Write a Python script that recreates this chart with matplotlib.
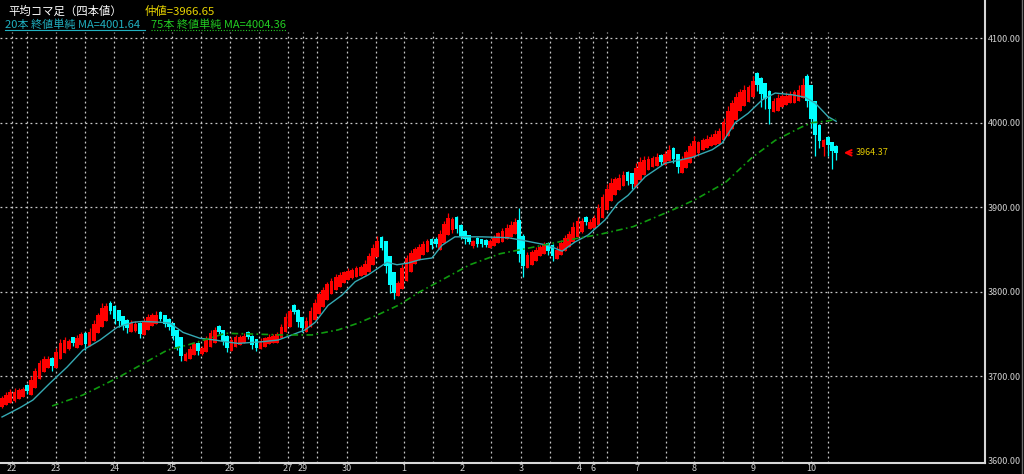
import matplotlib.pyplot as plt
from matplotlib.lines import Line2D

plt.rcParams['font.family'] = ['Noto Sans CJK JP', 'DejaVu Sans']

# Heikin-Ashi close per bar
closes = [
    3674, 3678, 3682, 3681, 3684, 3685, 3683, 3696, 3706, 3716,
    3720, 3721, 3712, 3729, 3740, 3743, 3742, 3739, 3745, 3750,
    3738, 3753, 3762, 3772, 3781, 3783, 3777, 3768, 3765, 3760,
    3757, 3763, 3762, 3750, 3764, 3770, 3772, 3773, 3768, 3762,
    3758, 3748, 3735, 3724, 3726, 3732, 3738, 3730, 3734, 3744,
    3751, 3755, 3752, 3742, 3733, 3743, 3746, 3747, 3748, 3746,
    3737, 3734, 3742, 3745, 3747, 3748, 3750, 3758, 3770, 3777,
    3776, 3764, 3757, 3766, 3777, 3787, 3797, 3802, 3809, 3813,
    3817, 3820, 3823, 3825, 3826, 3828, 3829, 3833, 3842, 3852,
    3860, 3852, 3830, 3808, 3798, 3810, 3828, 3840, 3846, 3851,
    3853, 3856, 3860, 3855, 3856, 3868, 3880, 3887, 3886, 3874,
    3866, 3862, 3859, 3860, 3857, 3856, 3855, 3860, 3864, 3869,
    3872, 3876, 3879, 3883, 3845, 3830, 3843, 3847, 3850, 3853,
    3856, 3848, 3842, 3850, 3858, 3864, 3868, 3877, 3884, 3884,
    3882, 3883, 3887, 3899, 3912, 3922, 3929, 3933, 3935, 3938,
    3931, 3928, 3946, 3954, 3956, 3957, 3958, 3959, 3954, 3963,
    3968, 3957, 3948, 3956, 3965, 3972, 3978, 3977, 3979, 3981,
    3983, 3986, 3990, 4001, 4014, 4023, 4030, 4036, 4039, 4042,
    4049, 4044, 4034, 4028, 4016, 4025, 4029, 4031, 4032, 4034,
    4036, 4039, 4045, 4025, 4004, 3985, 3978, 3979, 3973, 3967,
    3964.37,
]
# close - open (positive = up candle, negative = down candle)
body = [
    10, 12, 13, 10, 11, 9, -7, 18, 20, 19,
    15, 11, -10, 19, 20, 15, 10, -7, 12, 13,
    -13, 17, 20, 21, 23, 18, -10, -15, -13, -11,
    -10, 10, 8, -13, 15, 15, 13, 11, -8, -10,
    -10, -15, -20, -22, 8, 12, 13, -10, 8, 15,
    16, 15, -8, -13, -15, 13, 11, 10, 9, -7,
    -11, -10, 10, 10, 9, 9, 10, 13, 18, 19,
    -8, -15, -13, 13, 19, 20, 23, 20, 19, 16,
    15, 14, 13, 11, 10, 10, 10, 13, 18, 20,
    19, -13, -30, -34, -25, 15, 25, 27, 22, 18,
    15, 13, 13, -8, -7, 18, 22, 20, 13, -15,
    -13, -10, -8, 6, -7, -6, -6, 8, 10, 11,
    13, 13, 14, 15, -40, -36, 15, 15, 13, 11,
    11, -10, -13, 11, 15, 16, 15, 18, 19, 13,
    -7, 9, 11, 20, 25, 25, 22, 19, 15, 13,
    -11, -13, 22, 22, 18, 13, 11, 10, -8, 13,
    13, -13, -15, 15, 19, 20, 19, 13, 11, 11,
    11, 13, 15, 22, 30, 31, 27, 22, 19, 18,
    19, -15, -19, -19, -22, 13, 15, 13, 11, 11,
    13, 14, 16, -30, -40, -40, -19, 8, -10, -10,
    -8,
]
hi_wick = [
    3, 4, 3, 5, 2, 3, 1, 5, 4, 3,
    4, 3, 1, 5, 4, 3, 2, 1, 4, 3,
    1, 4, 5, 3, 6, 4, 2, 1, 1, 0,
    1, 4, 3, 1, 5, 4, 3, 4, 1, 1,
    1, 0, 0, 1, 3, 4, 3, 1, 2, 4,
    4, 3, 1, 0, 1, 3, 3, 2, 3, 1,
    1, 0, 3, 2, 3, 2, 3, 4, 5, 3,
    1, 1, 0, 4, 5, 4, 3, 4, 3, 3,
    4, 3, 2, 3, 2, 3, 3, 5, 4, 5,
    6, 1, 0, 0, 1, 3, 5, 4, 3, 2,
    3, 4, 3, 1, 2, 5, 4, 6, 2, 1,
    1, 1, 0, 1, 1, 0, 1, 3, 3, 2,
    3, 4, 5, 4, 14, 2, 4, 3, 3, 2,
    3, 1, 1, 4, 3, 3, 4, 5, 4, 3,
    1, 3, 4, 5, 4, 6, 5, 3, 4, 5,
    1, 0, 6, 5, 4, 4, 3, 5, 1, 4,
    5, 1, 0, 4, 3, 4, 6, 1, 3, 4,
    3, 5, 4, 5, 6, 4, 5, 4, 5, 3,
    6, 1, 1, 0, 1, 4, 5, 3, 4, 4,
    3, 5, 8, 2, 1, 0, 1, 2, 1, 0,
    1,
]
lo_wick = [
    1, 0, 0, 1, 0, 0, 4, 0, 0, 0,
    0, 0, 6, 0, 0, 0, 1, 3, 0, 0,
    7, 0, 0, 0, 0, 0, 3, 6, 7, 5,
    6, 0, 1, 5, 0, 0, 0, 0, 3, 4,
    3, 5, 4, 6, 0, 0, 0, 5, 1, 0,
    0, 0, 2, 5, 4, 0, 0, 0, 0, 2,
    5, 4, 0, 0, 0, 0, 0, 0, 0, 0,
    2, 6, 4, 0, 0, 0, 0, 0, 0, 0,
    0, 0, 0, 0, 1, 0, 0, 0, 0, 0,
    0, 3, 8, 10, 6, 0, 0, 0, 0, 0,
    0, 0, 0, 4, 3, 0, 0, 0, 3, 5,
    4, 6, 3, 2, 4, 3, 2, 0, 0, 0,
    0, 0, 0, 0, 10, 12, 0, 0, 0, 0,
    0, 5, 6, 0, 0, 0, 0, 0, 0, 1,
    3, 0, 0, 0, 0, 0, 0, 0, 0, 0,
    5, 7, 0, 0, 0, 0, 0, 0, 4, 0,
    0, 5, 7, 0, 0, 0, 0, 3, 0, 0,
    0, 0, 0, 0, 0, 0, 0, 0, 0, 0,
    0, 6, 15, 12, 18, 0, 0, 0, 0, 0,
    0, 0, 0, 6, 10, 25, 8, 10, 12, 22,
    8,
]

ma20_idx = [0, 4.3, 7.4, 11.5, 15.6, 19.4, 23.5, 27.6, 31.4, 33.8, 37.9, 40.3,
            43.4, 47.5, 51.1, 53.5, 56.6, 62.4, 66.2, 69.5, 72.7, 75.1, 78.2,
            81.5, 84.7, 87.8, 90.2, 92.3, 94.7, 97.4, 100.2, 103.1, 105.5,
            108.6, 115.1, 121.3, 124.7, 130.9, 134.3, 137.4, 140.5, 144.6,
            147.7, 150.1, 154.2, 159, 165.5, 170.3, 172.7, 175.8, 178.9, 182.3,
            185.4, 189.4, 192.6, 195, 198.1, 200]
ma20_val = [3652, 3663, 3672, 3692, 3711, 3731, 3743, 3758, 3764, 3765, 3764, 3763,
            3752, 3745, 3743, 3741, 3739, 3741, 3743, 3749, 3755, 3764, 3784,
            3796, 3812, 3820, 3828, 3835, 3832, 3834, 3838, 3840, 3855,
            3865, 3865, 3864, 3861, 3855, 3848, 3859, 3867, 3885,
            3905, 3914, 3936, 3952, 3959, 3968, 3976, 4000, 4011, 4027,
            4035, 4033, 4030, 4023, 4007, 4001.64]

ma75_idx = [12, 19.4, 27.6, 33.1, 39.6, 44.4, 51.1, 53.5, 60.7, 67.1, 74.3, 80.6,
            85.4, 90.2, 95, 100.2, 106.2, 112.2, 119.4, 126.6, 135.5, 143.4,
            151.3, 160.9, 166.2, 173.4, 179.9, 185.4, 191.8, 194.2, 198.1, 200]
ma75_val = [3665, 3678, 3698, 3713, 3731, 3737, 3747, 3751, 3750, 3749, 3749, 3755,
            3763, 3773, 3784, 3800, 3816, 3832, 3845, 3852, 3861, 3868,
            3877, 3897, 3909, 3929, 3959, 3979, 3995, 4000, 4002, 4004.36]

day_pos = [2.4, 12.9, 26.9, 40.8, 54.7, 68.6, 72.2, 82.7, 96.4, 110.3, 124.5,
           138.4, 141.7, 152.3, 165.9, 180.1, 194.0]
day_labels = ['22', '23', '24', '25', '26', '27', '29', '30', '1', '2', '3',
              '4', '6', '7', '8', '9', '10']
session_pos = [2.4, 6.0, 12.9, 19.9, 26.9, 33.8, 40.8, 47.7, 54.7, 61.6, 68.6,
               72.2, 75.5, 82.7, 89.7, 96.4, 103.4, 110.3, 117.3, 124.5, 131.4,
               138.4, 141.7, 145.1, 152.3, 159.2, 165.9, 172.9, 180.1, 187.1,
               194.0, 198.1]
price_levels = [3600, 3700, 3800, 3900, 4000, 4100]
last_price = 3964.37

opens = [c - b for c, b in zip(closes, body)]
xs = list(range(len(closes)))
colors = ['#ff0000' if c >= o else '#00ffff' for o, c in zip(opens, closes)]
highs = [max(o, c) + w for o, c, w in zip(opens, closes, hi_wick)]
lows = [min(o, c) - w for o, c, w in zip(opens, closes, lo_wick)]

fig = plt.figure(figsize=(10.24, 4.74), dpi=100, facecolor='black')
ax = fig.add_axes([0, 11 / 474, 985 / 1024, 463 / 474])
ax.set_facecolor('black')
ylo, yhi = 3597.6, 4145
xlo, xhi = -0.48, 235.7
ax.set_ylim(ylo, yhi)
ax.set_xlim(xlo, xhi)

grid_kw = dict(color='#c8c8c8', lw=0.9, linestyle=(0, (1.5, 2.5)), zorder=0)
ax.vlines(session_pos, ylo, 4107, **grid_kw)
ax.hlines(price_levels[1:], xlo, xhi, **grid_kw)

ax.vlines(xs, lows, highs, colors=colors, lw=0.9, zorder=2)
ax.bar(xs, [abs(b) for b in body], bottom=[min(o, c) for o, c in zip(opens, closes)],
       width=0.9, color=colors, zorder=3)

ax.plot(ma20_idx, ma20_val, color='#35a9b3', lw=1.0, zorder=4)
ax.plot(ma75_idx, ma75_val, color='#0f9a0f', lw=1.2,
        linestyle=(0, (4, 2, 1, 2)), zorder=4)

ax.annotate('', xy=(201.2, last_price), xytext=(204.4, last_price),
            arrowprops=dict(arrowstyle='->', color='#ff0000', lw=1.4))
ax.text(204.8, last_price, f'{last_price:.2f}', color='#e0c800',
        fontsize=6.5, va='center')

ax.yaxis.tick_right()
ax.set_yticks(price_levels, [f'{v:.2f}' for v in price_levels])
ax.set_xticks(day_pos, day_labels)
ax.tick_params(axis='y', length=0, pad=2, labelsize=6.5, labelcolor='#d0d0d0')
ax.tick_params(axis='x', length=0, pad=1, labelsize=6.5, labelcolor='#d0d0d0')
for s in ['top', 'left']:
    ax.spines[s].set_visible(False)
for s in ['right', 'bottom']:
    ax.spines[s].set_color('#d8d8d8')
    ax.spines[s].set_linewidth(1.5)

# header
fig.text(8 / 1024, 1 - 11 / 474, '平均コマ足（四本値）', color='white',
         fontsize=8.2, va='center')
fig.text(145 / 1024, 1 - 11 / 474, '仲値=3966.65', color='#e6d200',
         fontsize=8.2, va='center')
fig.text(5 / 1024, 1 - 24 / 474, '20本 終値単純 MA=4001.64', color='#20b0c0',
         fontsize=8, va='center')
fig.text(151 / 1024, 1 - 24 / 474, '75本 終値単純 MA=4004.36', color='#22cc22',
         fontsize=8, va='center')
fig.add_artist(Line2D([5 / 1024, 145 / 1024], [1 - 30 / 474] * 2,
                      color='#20b0c0', lw=0.8))
fig.add_artist(Line2D([151 / 1024, 287 / 1024], [1 - 30 / 474] * 2,
                      color='#22cc22', lw=0.8, linestyle=(0, (1, 1.5))))
fig.add_artist(Line2D([1022 / 1024] * 2, [0, 1], color='#707070', lw=1))

fig.savefig('out.png', dpi=100, facecolor='black')
